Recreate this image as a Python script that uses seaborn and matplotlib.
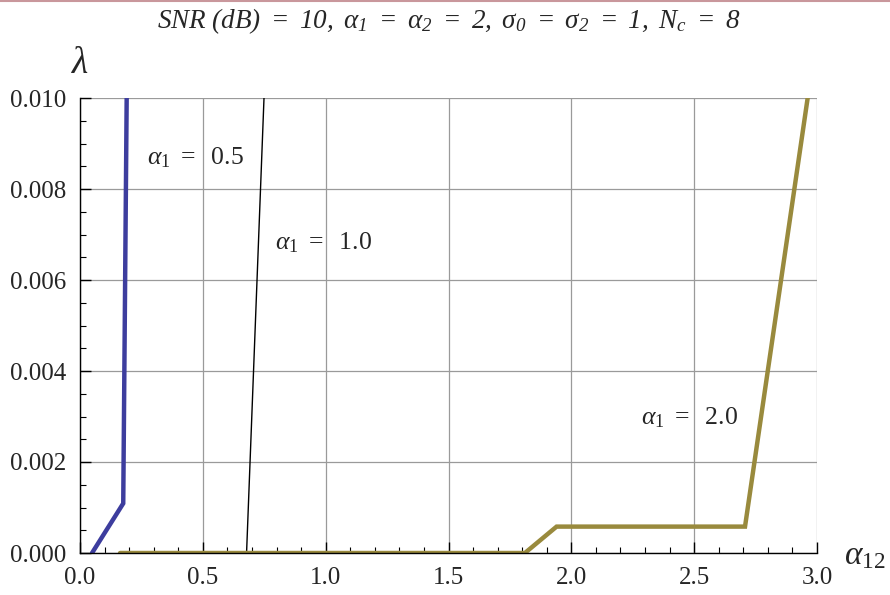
import matplotlib
matplotlib.use("Agg")
import matplotlib.pyplot as plt
import seaborn as sns
import pandas as pd
import numpy as np
from matplotlib.ticker import MultipleLocator, FormatStrFormatter
from matplotlib.lines import Line2D

# Data
x_a05 = [0.049, 0.176, 0.190]
y_a05 = [0.0, 0.00109, 0.0100]
x_a10 = [0.678, 0.749]
y_a10 = [0.0, 0.0100]
x_a20 = [0.163, 1.811, 1.940, 2.707, 2.962]
y_a20 = [0.0, 0.0, 0.00058, 0.00058, 0.0100]

series_names = ["0.5", "1.0", "2.0"]
label_pos_x = [0.47, 0.99, 2.48]
label_pos_y = [0.00868, 0.00681, 0.00297]

sns.set_theme(style="white")
plt.rcParams["font.family"] = ["Liberation Serif", "DejaVu Serif"]
plt.rcParams["mathtext.fontset"] = "custom"
plt.rcParams["mathtext.rm"] = "Liberation Serif"
plt.rcParams["mathtext.it"] = "Liberation Serif:italic"
plt.rcParams["mathtext.sf"] = "Liberation Serif:italic"
plt.rcParams["mathtext.fallback"] = "stix"

df = pd.concat([
    pd.DataFrame({"x": x_a05, "y": y_a05, "s": "0.5"}),
    pd.DataFrame({"x": x_a10, "y": y_a10, "s": "1.0"}),
    pd.DataFrame({"x": x_a20, "y": y_a20, "s": "2.0"}),
], ignore_index=True)

fig = plt.figure(figsize=(8.9, 5.95), dpi=100)
ax = fig.add_axes([80/890, 1 - 553/595, (817-80)/890, (553-98)/595])

palette = {"0.5": "#3d3d9e", "1.0": "#000000", "2.0": "#998a3d"}
widths = {"0.5": 3.2, "1.0": 1.0, "2.0": 3.2}
for s in series_names:
    sub = df[df["s"] == s]
    sns.lineplot(data=sub, x="x", y="y", ax=ax, color=palette[s],
                 linewidth=widths[s], sort=False, estimator=None,
                 legend=False, clip_on=True, solid_joinstyle="miter")

ax.set_xlim(0, 3.0)
ax.set_ylim(0, 0.010)
ax.xaxis.set_major_locator(MultipleLocator(0.5))
ax.xaxis.set_minor_locator(MultipleLocator(0.1))
ax.yaxis.set_major_locator(MultipleLocator(0.002))
ax.yaxis.set_minor_locator(MultipleLocator(0.0005))
ax.xaxis.set_major_formatter(FormatStrFormatter("%.1f"))
ax.yaxis.set_major_formatter(FormatStrFormatter("%.3f"))

ax.grid(True, which="major", color="#9a9a9a", linewidth=0.9)
ax.tick_params(which="major", direction="in", length=8, width=1, color="black",
               labelsize=18, pad=10, bottom=True, left=True)
ax.tick_params(which="minor", direction="in", length=4, width=0.8, color="black",
               bottom=True, left=True)
for side in ["top", "right"]:
    ax.spines[side].set_visible(False)
for side in ["left", "bottom"]:
    ax.spines[side].set_color("black")
    ax.spines[side].set_linewidth(1.0)
ax.set_xlabel("")
ax.set_ylabel("")

for name, px, py in zip(series_names, label_pos_x, label_pos_y):
    ax.text(px, py, r"$\alpha_1\ =\ $ " + name, fontsize=18.5, ha="center", va="center")

fig.text(80/890, 1 - 64/595, r"$\lambda$", fontsize=27, ha="center", va="center")
fig.text(865/890, 1 - 556/595, r"$\alpha_{12}$", fontsize=24, ha="center", va="center")

title = (r"$\mathsf{SNR\ (dB)\ =\ 10,\ \alpha_{1}\ =\ \alpha_{2}\ =\ 2,\ "
         r"\sigma_{0}\ =\ \sigma_{2}\ =\ 1,\ N_{c}\ =\ 8}$")
fig.text(449/890, 1 - 21/595, title, fontsize=19.5, ha="center", va="center")

fig.add_artist(Line2D([0, 1], [1 - 1/595, 1 - 1/595], transform=fig.transFigure,
                      color="#c9979c", linewidth=1.5))

fig.savefig("out.png", dpi=100)
